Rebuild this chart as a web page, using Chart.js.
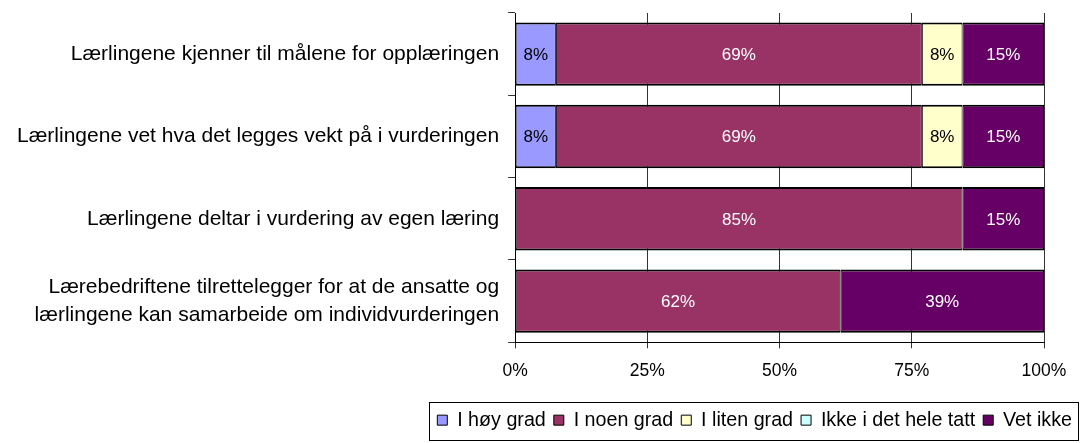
<!DOCTYPE html>
<html>
<head>
<meta charset="utf-8">
<script src="https://cdn.jsdelivr.net/npm/chart.js@4.4.1/dist/chart.umd.min.js"></script>
<style>
  html, body { margin: 0; padding: 0; background: #fff; }
  #wrap { width: 1080px; height: 443px; position: relative; }
</style>
</head>
<body>
<div id="wrap"><canvas id="barChart"></canvas></div>
<script>
// categories (top to bottom)
var categories = [
    'Lærlingene kjenner til målene for opplæringen',
    'Lærlingene vet hva det legges vekt på i vurderingen',
    'Lærlingene deltar i vurdering av egen læring',
    ['Lærebedriftene tilrettelegger for at de ansatte og', 'lærlingene kan samarbeide om individvurderingen']
];

// shares in percent
var hoyGrad   = [7.7, 7.7, 0, 0];
var noenGrad  = [69.2, 69.2, 84.6, 61.5];
var litenGrad = [7.7, 7.7, 0, 0];
var ikkeHele  = [0, 0, 0, 0];
var vetIkke   = [15.4, 15.4, 15.4, 38.5];

var seriesNames = ['I høy grad', 'I noen grad', 'I liten grad', 'Ikke i det hele tatt', 'Vet ikke'];
var xTicks = [0, 25, 50, 75, 100];

var fill = ['#9999FF', '#993366', '#FFFFCC', '#CCFFFF', '#660066'];
var textColor = ['#000', '#fff', '#000', '#000', '#fff'];
var FONT = "'Liberation Sans', Arial, sans-serif";

function nz(arr) {
    return arr.map(function (v) { return v === 0 ? null : v; });
}

var seriesData = [hoyGrad, noenGrad, litenGrad, ikkeHele, vetIkke];
var datasets = seriesData.map(function (d, i) {
    return {
        label: seriesNames[i],
        data: nz(d),
        backgroundColor: fill[i],
        borderColor: '#000',
        borderWidth: { top: 2, bottom: 2, left: 1, right: 1 },
        borderSkipped: false,
        categoryPercentage: 1.0,
        barPercentage: 0.77
    };
});

var segmentLabels = {
    id: 'segmentLabels',
    afterDatasetsDraw: function (chart) {
        var ctx = chart.ctx;
        ctx.save();
        ctx.font = '17px ' + FONT;
        ctx.textAlign = 'center';
        ctx.textBaseline = 'middle';
        chart.data.datasets.forEach(function (ds, i) {
            var meta = chart.getDatasetMeta(i);
            meta.data.forEach(function (bar, j) {
                var v = ds.data[j];
                if (v === null || v === undefined) return;
                var p = bar.getProps(['x', 'y', 'base'], true);
                ctx.fillStyle = textColor[i];
                ctx.fillText(Math.round(v) + '%', (p.x + p.base) / 2, p.y + 1);
            });
        });
        ctx.restore();
    }
};

var legendBorder = {
    id: 'legendBorder',
    afterDraw: function (chart) {
        var boxes = chart.legend.legendHitBoxes;
        if (!boxes || !boxes.length) return;
        var left = Infinity, right = -Infinity, top = Infinity, bottom = -Infinity;
        boxes.forEach(function (b) {
            left = Math.min(left, b.left);
            right = Math.max(right, b.left + b.width);
            top = Math.min(top, b.top);
            bottom = Math.max(bottom, b.top + b.height);
        });
        var ctx = chart.ctx;
        ctx.save();
        ctx.strokeStyle = '#000';
        ctx.lineWidth = 1;
        ctx.strokeRect(Math.round(left - 8) + 0.5, Math.round(top - 8) + 0.5,
            Math.round(right - left + 14), Math.round(bottom - top + 18));
        ctx.restore();
    }
};

var ctx = document.getElementById('barChart').getContext('2d');
var barChart = new Chart(ctx, {
    type: 'bar',
    data: {
        labels: categories,
        datasets: datasets
    },
    options: {
        indexAxis: 'y',
        responsive: true,
        maintainAspectRatio: false,
        animation: false,
        layout: {
            padding: { top: 13, left: 8, right: 0, bottom: 3 }
        },
        scales: {
            x: {
                stacked: true,
                min: 0,
                max: 100,
                afterBuildTicks: function (axis) {
                    axis.ticks = xTicks.map(function (v) { return { value: v }; });
                },
                afterFit: function (axis) {
                    axis.paddingRight = 36;
                    axis.height += 9;
                },
                ticks: {
                    color: '#000',
                    font: { family: FONT, size: 17.5 },
                    padding: 12,
                    maxRotation: 0,
                    callback: function (v) { return v + '%'; }
                },
                grid: {
                    color: '#333',
                    lineWidth: 1,
                    tickLength: 6
                },
                border: { color: '#000', width: 1 }
            },
            y: {
                stacked: true,
                afterFit: function (axis) {
                    axis.paddingTop = 0;
                    axis.paddingBottom = 0;
                },
                ticks: {
                    color: '#000',
                    font: { family: FONT, size: 21, lineHeight: 1.3 },
                    padding: 9
                },
                grid: {
                    offset: true,
                    drawOnChartArea: false,
                    color: '#333',
                    tickLength: 7
                },
                border: { color: '#000', width: 1 }
            }
        },
        plugins: {
            legend: {
                position: 'bottom',
                align: 'end',
                labels: {
                    color: '#000',
                    font: { family: FONT, size: 19.7 },
                    boxWidth: 10,
                    boxHeight: 10,
                    padding: 8,
                    generateLabels: function (chart) {
                        return chart.data.datasets.map(function (ds, i) {
                            return {
                                text: ds.label,
                                fillStyle: fill[i],
                                strokeStyle: '#000',
                                lineWidth: 1,
                                datasetIndex: i,
                                fontColor: '#000'
                            };
                        });
                    }
                }
            },
            tooltip: { enabled: false }
        }
    },
    plugins: [segmentLabels, legendBorder]
});
</script>
</body>
</html>
